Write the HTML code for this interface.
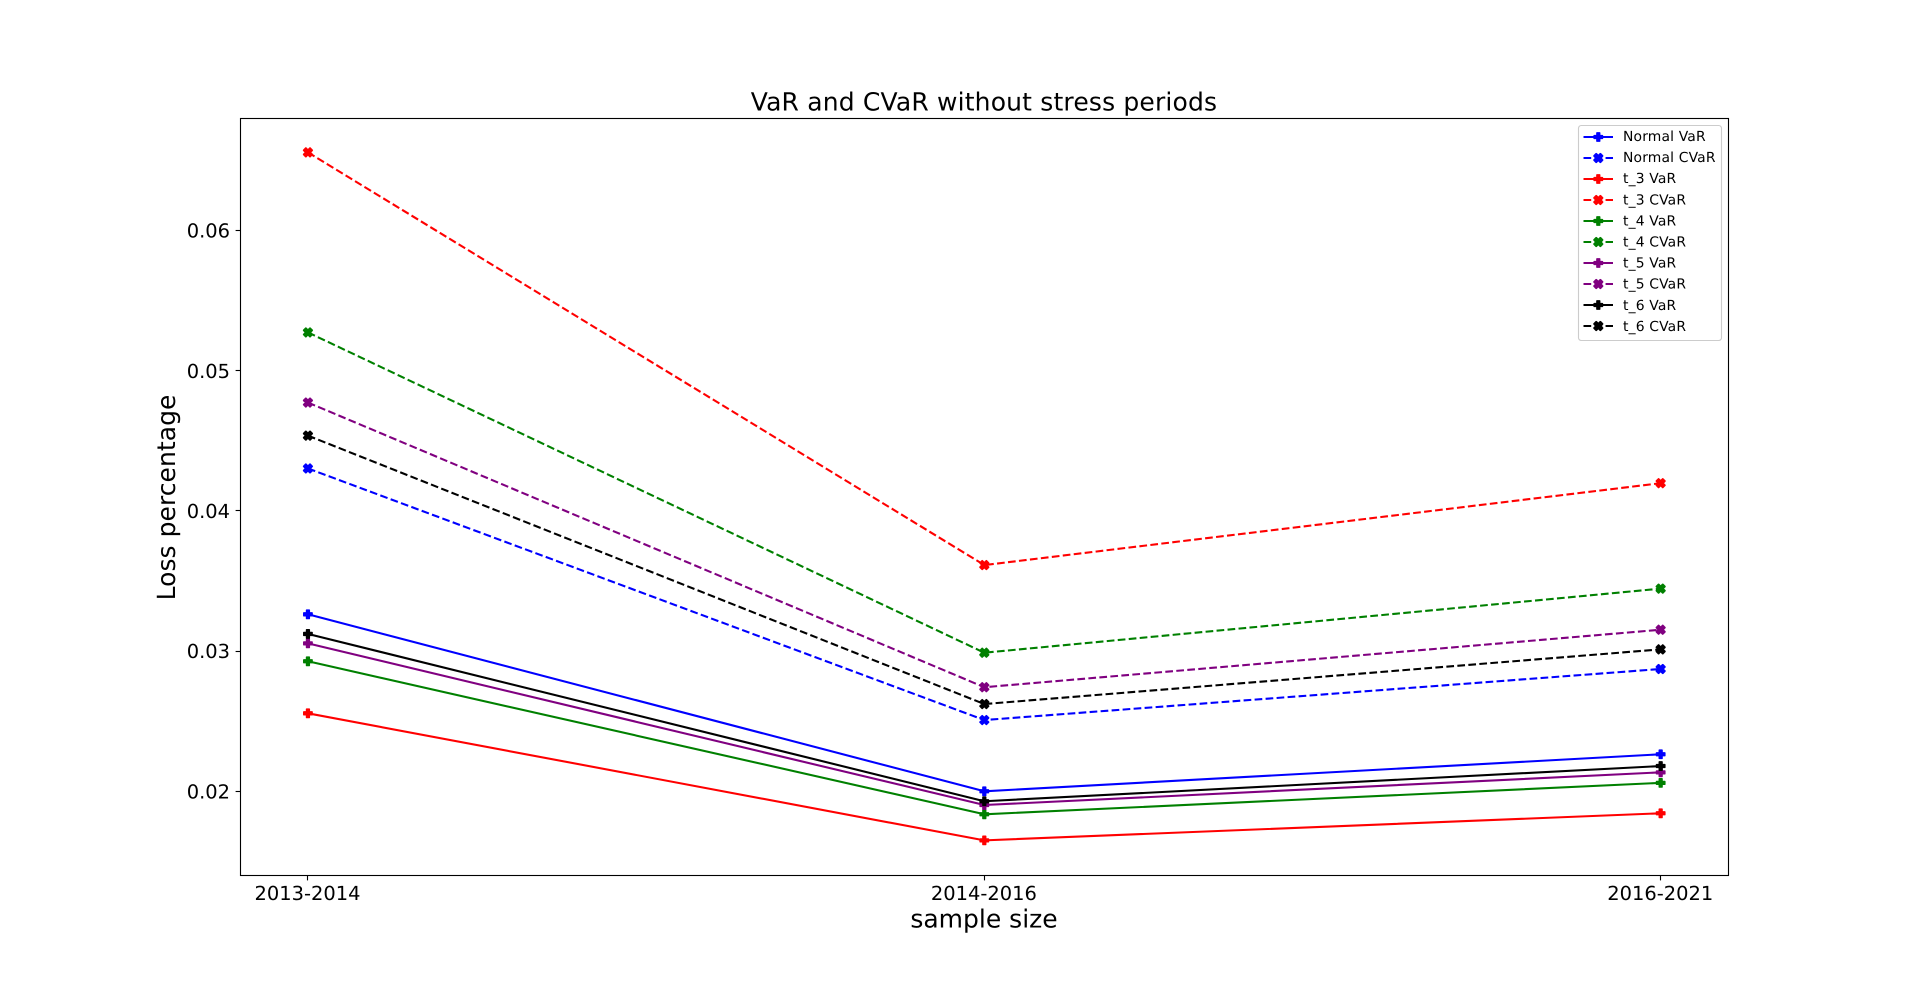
<!DOCTYPE html>
<html lang="en">
<head>
<meta charset="utf-8">
<title>VaR and CVaR without stress periods</title>
<style>
  html, body { margin: 0; padding: 0; background: #fff; }
  svg { display: block; }
  text { font-family: "DejaVu Sans", "Liberation Sans", sans-serif; fill: #000; text-rendering: geometricPrecision; }
</style>
</head>
<body>
<svg id="chart" xmlns="http://www.w3.org/2000/svg" width="1920" height="983" viewBox="0 0 1920 983">
  <rect x="0" y="0" width="1920" height="983" fill="#fff"/>
  <text x="984" y="110.5" font-size="25" letter-spacing="0.17" text-anchor="middle">VaR and CVaR without stress periods</text>
  <text x="984" y="927.5" font-size="25" text-anchor="middle">sample size</text>
  <text transform="translate(175,497.5) rotate(-90)" font-size="25" letter-spacing="0.05" text-anchor="middle">Loss percentage</text>
  <g id="marks"></g>
  <rect x="240.5" y="118.5" width="1488" height="757" fill="none" stroke="#000" stroke-width="1.11"/>
  <g id="ticks"></g>
  <g id="legend"></g>
</svg>
<script>
// Chart data
const categories = ['2013-2014', '2014-2016', '2016-2021'];
const yTickValues = [0.02, 0.03, 0.04, 0.05, 0.06];
const yTickLabels = ['0.02', '0.03', '0.04', '0.05', '0.06'];
const yLimits = [0.01403, 0.06801];

const normalVar = [0.03262, 0.02000, 0.02264];
const normalCvar = [0.04302, 0.02508, 0.02872];
const t3Var = [0.02556, 0.01650, 0.01843];
const t3Cvar = [0.06556, 0.03613, 0.04197];
const t4Var = [0.02927, 0.01836, 0.02060];
const t4Cvar = [0.05272, 0.02988, 0.03445];
const t5Var = [0.03055, 0.01902, 0.02135];
const t5Cvar = [0.04772, 0.02742, 0.03152];
const t6Var = [0.03122, 0.01929, 0.02180];
const t6Cvar = [0.04536, 0.02622, 0.03012];

const seriesNames = ['Normal VaR', 'Normal CVaR', 't_3 VaR', 't_3 CVaR', 't_4 VaR', 't_4 CVaR', 't_5 VaR', 't_5 CVaR', 't_6 VaR', 't_6 CVaR'];
const seriesValues = [normalVar, normalCvar, t3Var, t3Cvar, t4Var, t4Cvar, t5Var, t5Cvar, t6Var, t6Cvar];
const seriesColors = ['#0000ff', '#0000ff', '#ff0000', '#ff0000', '#008000', '#008000', '#800080', '#800080', '#000000', '#000000'];

// Layout
const NS = 'http://www.w3.org/2000/svg';
const plotLeft = 240, plotRight = 1728, plotTop = 118, plotBottom = 875;
const LINE_W = 2.08, MARKER_SIZE = 8.33, PLUS_EDGE = 1.5, CROSS_EDGE = 1.9;
const DASH = '7.7 3.33';

function xScale(i) {
  return plotLeft + 0.3 + (plotRight - plotLeft) * (i + 0.1) / (categories.length - 1 + 0.2);
}
function yScale(v) {
  return plotBottom - (v - yLimits[0]) / (yLimits[1] - yLimits[0]) * (plotBottom - plotTop);
}
function slug(s) {
  return s.toLowerCase().replace(/[^a-z0-9]+/g, '-');
}
function create(tag, parent) {
  const el = document.createElementNS(NS, tag);
  parent.appendChild(el);
  return el;
}
const plusShape = [[-1,-3],[1,-3],[1,-1],[3,-1],[3,1],[1,1],[1,3],[-1,3],[-1,1],[-3,1],[-3,-1],[-1,-1]];
const crossShape = [[-1.5,-3],[0,-1.5],[1.5,-3],[3,-1.5],[1.5,0],[3,1.5],[1.5,3],[0,1.5],[-1.5,3],[-3,1.5],[-1.5,0],[-3,-1.5]];
function markerPoints(shape, cx, cy) {
  return shape.map(p => (cx + p[0] * MARKER_SIZE / 6).toFixed(2) + ',' + (cy + p[1] * MARKER_SIZE / 6).toFixed(2)).join(' ');
}
function drawMarker(parent, isDashed, cx, cy, color, name) {
  const m = create('polygon', parent);
  
  
  m.setAttribute('points', markerPoints(isDashed ? crossShape : plusShape, cx, cy));
  m.setAttribute('fill', color);
  m.setAttribute('stroke', color);
  m.setAttribute('stroke-width', isDashed ? CROSS_EDGE : PLUS_EDGE);
  m.setAttribute('stroke-linejoin', 'round');
}

// Series
const marks = document.getElementById('marks');
seriesNames.forEach(function (name, s) {
  const values = seriesValues[s];
  const color = seriesColors[s];
  const dashed = s % 2 === 1;
  const g = create('g', marks);
  
  
  const line = create('polyline', g);
  
  
  line.setAttribute('points', values.map((v, i) => xScale(i).toFixed(2) + ',' + yScale(v).toFixed(2)).join(' '));
  line.setAttribute('fill', 'none');
  line.setAttribute('stroke', color);
  line.setAttribute('stroke-width', LINE_W);
  line.setAttribute('stroke-linejoin', 'round');
  if (dashed) line.setAttribute('stroke-dasharray', DASH);
  values.forEach(function (v, i) {
    drawMarker(g, dashed, xScale(i), yScale(v), color, 'point-' + slug(name) + '-' + categories[i]);
  });
});

// Ticks
const ticks = document.getElementById('ticks');
categories.forEach(function (label, i) {
  const x = Math.round(xScale(i) - 0.5) + 0.5;
  const t = create('line', ticks);
  
  
  t.setAttribute('x1', x);
  t.setAttribute('x2', x);
  t.setAttribute('y1', plotBottom + 0.5);
  t.setAttribute('y2', plotBottom + 5.4);
  t.setAttribute('stroke', '#000');
  t.setAttribute('stroke-width', 1.11);
  const txt = create('text', ticks);
  
  
  txt.setAttribute('x', xScale(i) - 0.4);
  txt.setAttribute('y', 900);
  txt.setAttribute('font-size', 19.44);
  txt.setAttribute('text-anchor', 'middle');
  txt.textContent = label;
});
yTickValues.forEach(function (v, i) {
  const y = Math.round(yScale(v) - 0.5) + 0.5;
  const t = create('line', ticks);
  
  
  t.setAttribute('x1', plotLeft + 0.5);
  t.setAttribute('x2', plotLeft - 4.4);
  t.setAttribute('y1', y);
  t.setAttribute('y2', y);
  t.setAttribute('stroke', '#000');
  t.setAttribute('stroke-width', 1.11);
  const txt = create('text', ticks);
  
  
  txt.setAttribute('x', 230);
  txt.setAttribute('y', yScale(v) + 7.2);
  txt.setAttribute('font-size', 19.44);
  txt.setAttribute('text-anchor', 'end');
  txt.textContent = yTickLabels[i];
});

// Legend
const legend = document.getElementById('legend');
const box = create('rect', legend);


box.setAttribute('x', 1578.5);
box.setAttribute('y', 125.5);
box.setAttribute('width', 143);
box.setAttribute('height', 215);
box.setAttribute('rx', 2.8);
box.setAttribute('fill', '#fff');
box.setAttribute('fill-opacity', 0.8);
box.setAttribute('stroke', '#cccccc');
box.setAttribute('stroke-width', 1.11);
seriesNames.forEach(function (name, s) {
  const color = seriesColors[s];
  const dashed = s % 2 === 1;
  const rowY = 137 + s * 21;
  const g = create('g', legend);
  
  
  const l = create('line', g);
  
  
  l.setAttribute('x1', 1583.5);
  l.setAttribute('x2', 1613);
  l.setAttribute('y1', rowY);
  l.setAttribute('y2', rowY);
  l.setAttribute('stroke', color);
  l.setAttribute('stroke-width', LINE_W);
  if (dashed) l.setAttribute('stroke-dasharray', DASH);
  drawMarker(g, dashed, 1598.3, rowY, color, 'legend-marker-' + slug(name));
  const txt = create('text', g);
  
  
  txt.setAttribute('x', 1623);
  txt.setAttribute('y', 141 + s * 21.1);
  txt.setAttribute('font-size', 13.89);
  txt.setAttribute('letter-spacing', 0.16);
  txt.textContent = name;
});
</script>
</body>
</html>
